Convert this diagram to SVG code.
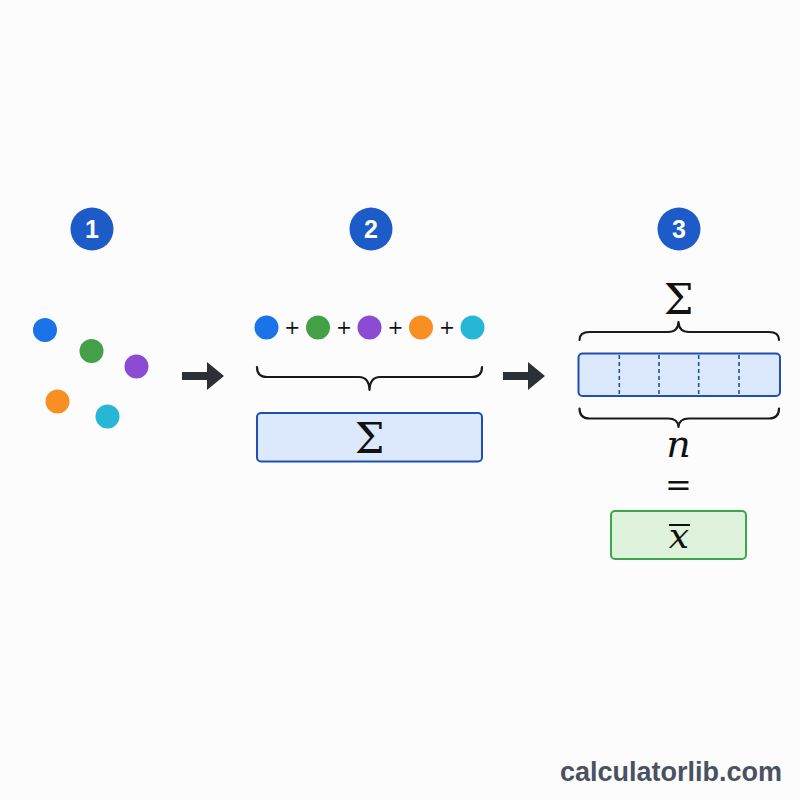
<svg xmlns="http://www.w3.org/2000/svg" width="800" height="800" viewBox="0 0 800 800">
<defs>
<style>
.badge{fill:#1d5bc9}
.badgeTxt{fill:#fff;font-family:"Liberation Sans",Arial,sans-serif;font-weight:bold;font-size:25px;text-anchor:middle}
.brace{fill:none;stroke:#1a1a1a;stroke-width:2.2;stroke-linecap:round;stroke-linejoin:round}
.math{font-family:"DejaVu Serif","Liberation Serif",serif;fill:#111;text-anchor:middle}
.plus{font-family:"DejaVu Sans","Liberation Sans",sans-serif;font-size:19px;fill:#111;text-anchor:middle}
.blue{fill:#1a73e8}.green{fill:#43a047}.purple{fill:#8c4bd3}.orange{fill:#f78f22}.cyan{fill:#26b6d6}
.arrow{fill:#2b2f36}
</style>
</defs>
<rect width="800" height="800" fill="#fcfcfc"/>

<g id="step1">
<circle class="badge" cx="92" cy="229" r="21.5"/>
<text class="badgeTxt" x="92" y="238">1</text>
<circle class="blue" cx="45" cy="330" r="12"/>
<circle class="green" cx="91.5" cy="351" r="12"/>
<circle class="purple" cx="136.5" cy="366.5" r="12"/>
<circle class="orange" cx="57.5" cy="401.5" r="12"/>
<circle class="cyan" cx="107.5" cy="416.5" r="12"/>
</g>

<g id="step2">
<circle class="badge" cx="371" cy="229" r="21.5"/>
<text class="badgeTxt" x="371" y="238">2</text>
<circle class="blue" cx="266.5" cy="327.5" r="12"/>
<circle class="green" cx="318" cy="327.5" r="12"/>
<circle class="purple" cx="369.5" cy="327.5" r="12"/>
<circle class="orange" cx="421" cy="327.5" r="12"/>
<circle class="cyan" cx="472.5" cy="327.5" r="12"/>
<text class="plus" x="292.3" y="334">+</text>
<text class="plus" x="344" y="334">+</text>
<text class="plus" x="395.5" y="334">+</text>
<text class="plus" x="447" y="334">+</text>
<path class="brace" d="M257,367 Q257,377 267,377 L359,377 Q369,377 369.5,390 Q370,377 380,377 L472,377 Q482,377 482,367"/>
<rect x="257" y="413" width="225" height="48.5" rx="4" fill="#dce8fb" stroke="#1f4fb0" stroke-width="2"/>
<text class="math" x="369.5" y="453" font-size="42">Σ</text>
</g>

<g id="step3">
<circle class="badge" cx="679" cy="229" r="21.5"/>
<text class="badgeTxt" x="679" y="238">3</text>
<text class="math" x="678.5" y="313.5" font-size="42">Σ</text>
<path class="brace" d="M579.5,340 Q579.5,332 589.5,332 L668,332 Q678,332 678.5,322 Q679,332 689,332 L769,332 Q779,332 779,340"/>
<rect x="578.5" y="353.5" width="201.5" height="42.5" rx="4" fill="#dce8fb" stroke="#1f4fb0" stroke-width="2"/>
<g stroke="#1f4fb0" stroke-width="1.6" stroke-dasharray="4,3">
<line x1="619.3" y1="355" x2="619.3" y2="395"/>
<line x1="659" y1="355" x2="659" y2="395"/>
<line x1="698.7" y1="355" x2="698.7" y2="395"/>
<line x1="739" y1="355" x2="739" y2="395"/>
</g>
<path class="brace" d="M579.5,408.5 Q579.5,418.5 589.5,418.5 L668,418.5 Q678,418.5 678.5,427 Q679,418.5 689,418.5 L769,418.5 Q779,418.5 779,408.5"/>
<text class="math" x="678.5" y="457" font-size="38" font-style="italic">n</text>
<text class="math" x="678.5" y="496" font-size="32">=</text>
<rect x="611" y="511" width="135" height="48" rx="4" fill="#dff2dc" stroke="#3aa84a" stroke-width="2"/>
<text class="math" x="679" y="548" font-size="36" font-style="italic">x</text>
<line x1="669" y1="525" x2="690" y2="525" stroke="#111" stroke-width="2"/>
</g>

<g id="connectors">
<path class="arrow" d="M182,372 L207,372 L207,362 L224,376 L207,390 L207,380 L182,380 Z"/>
<path class="arrow" d="M503,372 L528,372 L528,362 L545,376 L528,390 L528,380 L503,380 Z"/>
</g>

<text x="671" y="781" font-family="'Liberation Sans',Arial,sans-serif" font-weight="bold" font-size="27" fill="#4a5260" text-anchor="middle">calculatorlib.com</text>
</svg>
